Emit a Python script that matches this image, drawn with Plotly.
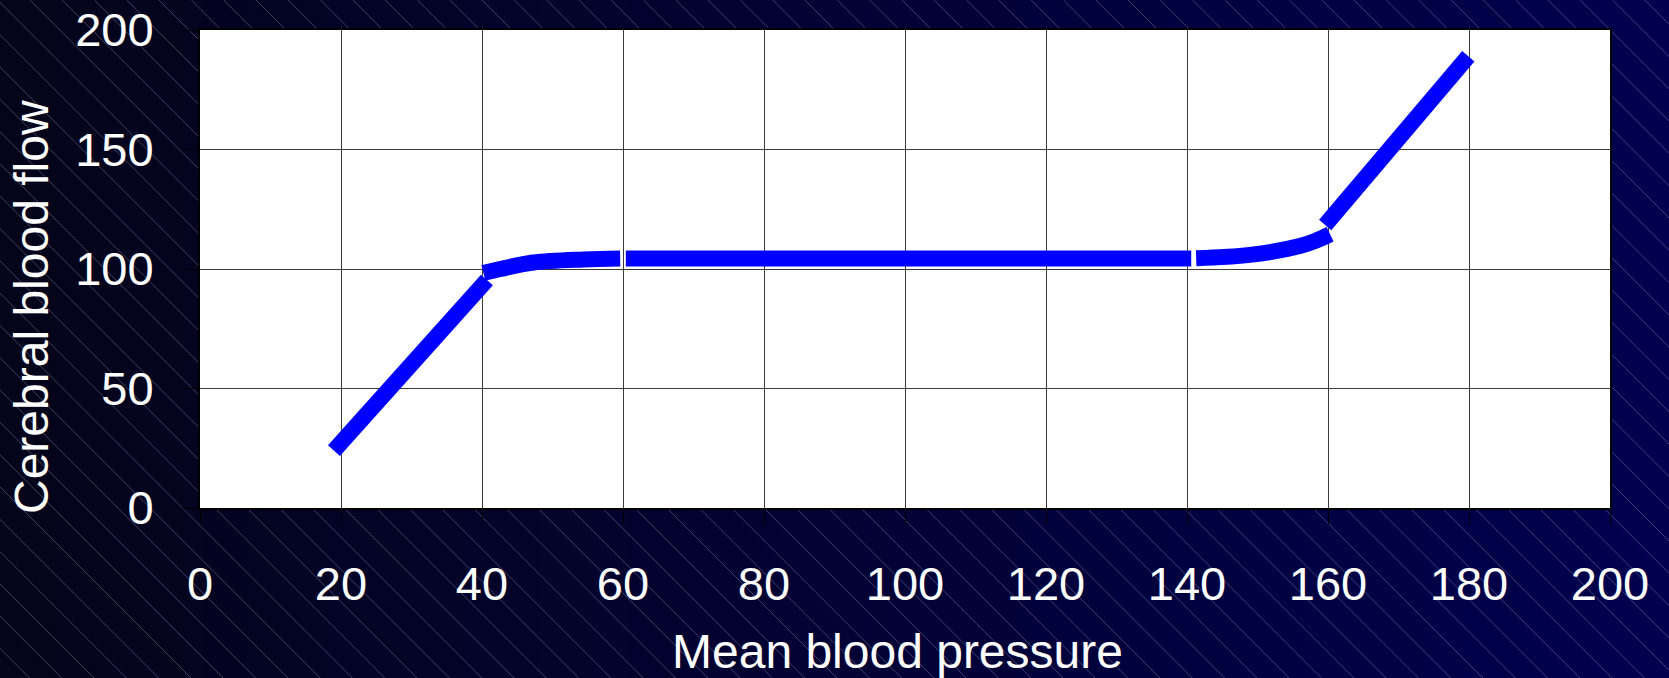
import plotly.graph_objects as go

# --- curve data: cerebral autoregulation (flow vs. mean arterial pressure) ---
x_rise = [19.0, 40.7]
y_rise = [24.0, 95.4]

x_knee_low = [40.2, 42.6, 47.3, 54.4, 59.6]
y_knee_low = [98.3, 100.0, 102.7, 104.0, 104.4]

x_plateau = [60.4, 140.6]
y_plateau = [104.4, 104.4]

x_knee_high = [141.3, 148.9, 156.0, 158.4, 160.3]
y_knee_high = [104.5, 105.9, 109.6, 112.0, 114.5]

x_breakthrough = [159.6, 179.9]
y_breakthrough = [118.4, 189.0]

x_ticks = [0, 20, 40, 60, 80, 100, 120, 140, 160, 180, 200]
y_ticks = [0, 50, 100, 150, 200]

# --- page geometry ---
W, H = 1669, 678
ML, MR, MT, MB = 200, 59, 30, 170
PW, PH = W - ML - MR, H - MT - MB


def fx(px):
    return (px - ML) / PW


def fy(py):
    return (H - MB - py) / PH


def mix(c0, c1, t):
    return "rgb({},{},{})".format(*[round(a + (b - a) * t) for a, b in zip(c0, c1)])


shapes = []

# dark navy background, brightening towards the right
left_col, right_col = (4, 4, 26), (0, 0, 78)
n_strips = 90
step = W / n_strips
for i in range(n_strips):
    x0, x1 = i * step, (i + 1) * step + 1
    shapes.append(dict(type="rect", xref="paper", yref="paper",
                       x0=fx(x0), x1=fx(x1), y0=fy(H + 1), y1=fy(-1),
                       fillcolor=mix(left_col, right_col, (i + 0.5) / n_strips),
                       line=dict(width=0), layer="below"))

# thin diagonal hatching
spacing = 32.3
c = -805.0
while c - spacing > -W:
    c -= spacing
parts = []
while c < H:
    parts.append("M {:.5f},{:.5f} L {:.5f},{:.5f}".format(fx(-c), fy(0), fx(H - c), fy(H)))
    c += spacing
shapes.append(dict(type="path", xref="paper", yref="paper", path=" ".join(parts),
                   line=dict(color="rgba(190,190,225,0.33)", width=1), layer="below"))

# white plotting panel
shapes.append(dict(type="rect", xref="paper", yref="paper", x0=0, x1=1, y0=0, y1=1,
                   fillcolor="white", line=dict(width=0), layer="below"))

fig = go.Figure()
line_style = dict(color="#0000FF", width=16)
for xs, ys, smooth in [(x_rise, y_rise, False),
                       (x_knee_low, y_knee_low, True),
                       (x_plateau, y_plateau, False),
                       (x_knee_high, y_knee_high, True),
                       (x_breakthrough, y_breakthrough, False)]:
    ln = dict(line_style)
    if smooth:
        ln.update(shape="spline", smoothing=1.0)
    fig.add_trace(go.Scatter(x=xs, y=ys, mode="lines", line=ln,
                             hoverinfo="skip", showlegend=False))

font_family = "Liberation Sans, Arial, sans-serif"
axis_common = dict(
    automargin=False,
    showgrid=True, gridcolor="#3a3a3a", gridwidth=1,
    zeroline=False,
    showline=True, linecolor="black", linewidth=2, mirror=True,
    ticks="outside", ticklen=15, tickwidth=1, tickcolor="black",
    tickfont=dict(family=font_family, size=47, color="white"),
)

fig.update_layout(
    width=W, height=H,
    margin=dict(l=ML, r=MR, t=MT, b=MB, pad=0),
    paper_bgcolor="#000020",
    plot_bgcolor="white",
    shapes=shapes,
    xaxis=dict(range=[0, 200], tickvals=x_ticks, ticktext=[str(v) for v in x_ticks],
               ticklabelstandoff=19, **axis_common),
    yaxis=dict(range=[0, 200], tickvals=y_ticks, ticktext=[str(v) for v in y_ticks],
               ticklabelstandoff=20, **axis_common),
    annotations=[
        dict(text="Mean blood pressure", xref="paper", yref="paper",
             x=fx(897), y=fy(651), xanchor="center", yanchor="middle",
             showarrow=False, font=dict(family=font_family, size=48, color="white")),
        dict(text="Cerebral blood flow", xref="paper", yref="paper",
             x=fx(31), y=fy(307), xanchor="center", yanchor="middle", textangle=-90,
             showarrow=False, font=dict(family=font_family, size=48, color="white")),
    ],
)

fig.write_html("out.html")
